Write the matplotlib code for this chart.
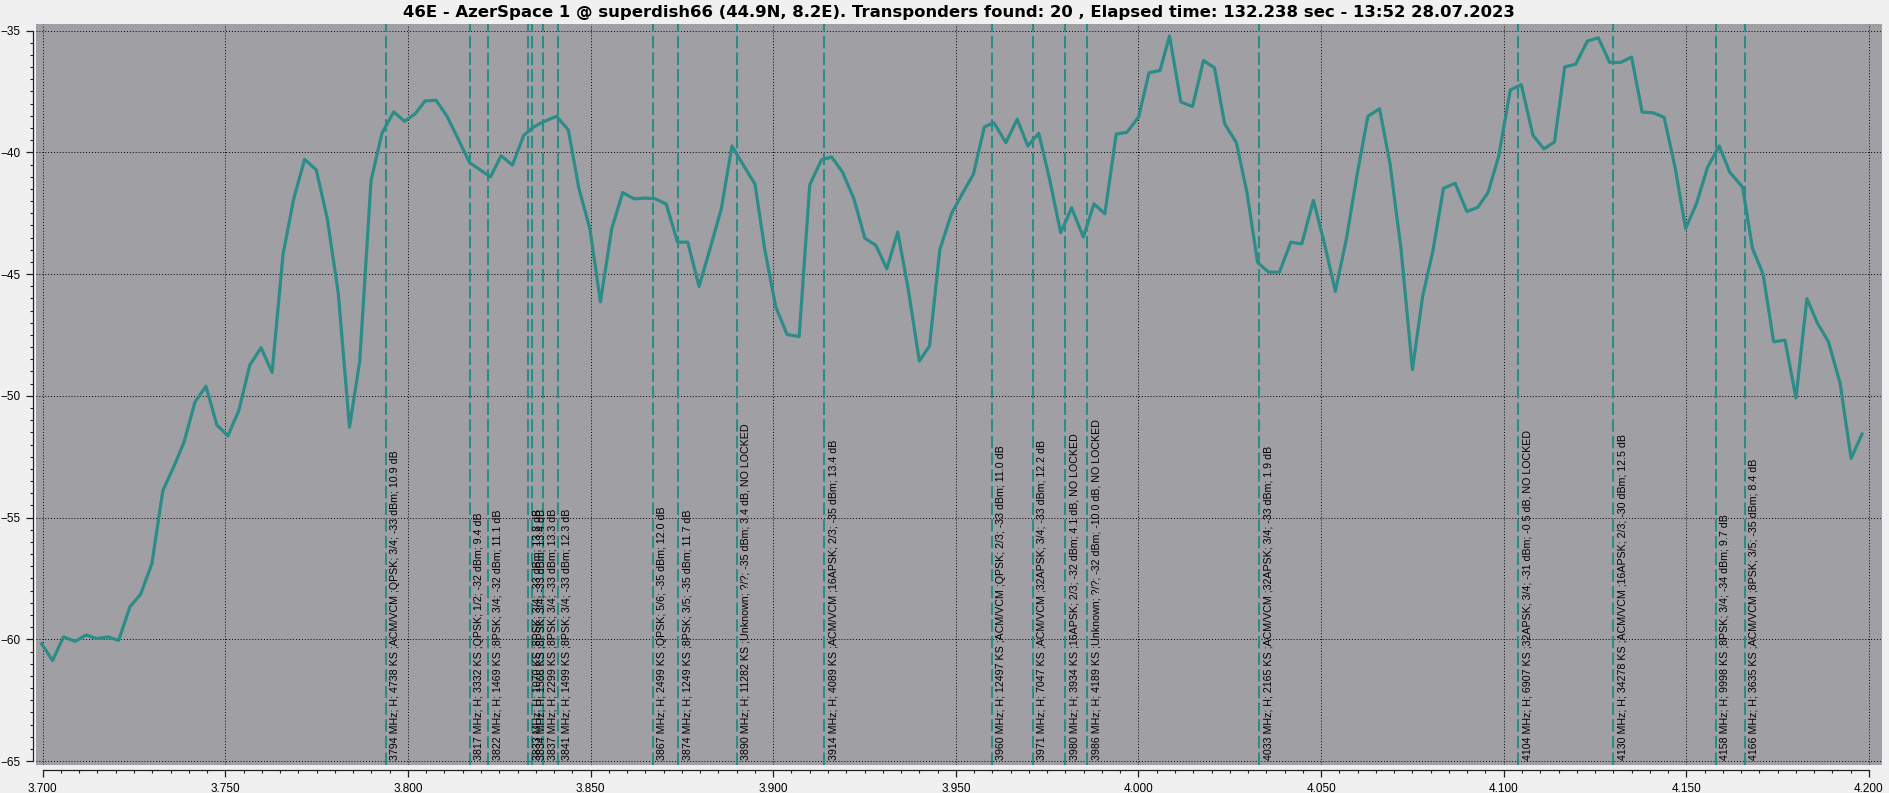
import matplotlib.pyplot as plt
from matplotlib.ticker import MultipleLocator, FormatStrFormatter

# spectrum scan, GHz / dBm
freq = [3.6997, 3.7027, 3.7057, 3.7089, 3.7119, 3.7148, 3.7178, 3.7208, 3.7239, 3.7268,
        3.7299, 3.7329, 3.7358, 3.7387, 3.7417, 3.7447, 3.7477, 3.7507, 3.7537, 3.7567,
        3.7598, 3.7628, 3.7658, 3.7687, 3.7717, 3.7749, 3.7779, 3.7809, 3.7840, 3.7868,
        3.7899, 3.7929, 3.7961, 3.7991, 3.8020, 3.8047, 3.8077, 3.8107, 3.8139, 3.8169,
        3.8196, 3.8226, 3.8255, 3.8286, 3.8317, 3.8344, 3.8370, 3.8407, 3.8439, 3.8468,
        3.8498, 3.8527, 3.8558, 3.8588, 3.8619, 3.8649, 3.8677, 3.8707, 3.8738, 3.8766,
        3.8797, 3.8828, 3.8858, 3.8887, 3.8918, 3.8950, 3.8977, 3.9007, 3.9038, 3.9071,
        3.9100, 3.9132, 3.9160, 3.9190, 3.9221, 3.9251, 3.9281, 3.9311, 3.9341, 3.9370,
        3.9400, 3.9428, 3.9456, 3.9488, 3.9518, 3.9548, 3.9578, 3.9604, 3.9637, 3.9668,
        3.9697, 3.9727, 3.9757, 3.9787, 3.9817, 3.9849, 3.9878, 3.9908, 3.9939, 3.9968,
        4.0000, 4.0029, 4.0059, 4.0085, 4.0116, 4.0148, 4.0178, 4.0208, 4.0236, 4.0268,
        4.0297, 4.0326, 4.0356, 4.0386, 4.0417, 4.0447, 4.0479, 4.0509, 4.0539, 4.0569,
        4.0598, 4.0628, 4.0660, 4.0689, 4.0719, 4.0750, 4.0778, 4.0806, 4.0835, 4.0867,
        4.0899, 4.0929, 4.0957, 4.0986, 4.1018, 4.1048, 4.1080, 4.1110, 4.1139, 4.1167,
        4.1197, 4.1229, 4.1259, 4.1290, 4.1320, 4.1350, 4.1379, 4.1410, 4.1439, 4.1469,
        4.1498, 4.1528, 4.1558, 4.1590, 4.1619, 4.1654, 4.1681, 4.1710, 4.1739, 4.1770,
        4.1800, 4.1830, 4.1859, 4.1889, 4.1921, 4.1951, 4.1981]
level = [-60.18, -60.87, -59.90, -60.08, -59.82, -59.97, -59.90, -60.04, -58.66, -58.15,
         -56.89, -53.89, -52.94, -51.90, -50.25, -49.61, -51.20, -51.64, -50.60, -48.74,
         -48.02, -49.04, -44.19, -41.93, -40.29, -40.72, -42.71, -45.75, -51.29, -48.57,
         -41.15, -39.21, -38.34, -38.73, -38.41, -37.89, -37.86, -38.52, -39.50, -40.43,
         -40.70, -41.01, -40.14, -40.52, -39.30, -38.96, -38.75, -38.52, -39.08, -41.48,
         -43.13, -46.14, -43.13, -41.65, -41.91, -41.88, -41.91, -42.12, -43.69, -43.69,
         -45.51, -43.91, -42.31, -39.74, -40.52, -41.30, -44.00, -46.35, -47.48, -47.57,
         -41.34, -40.31, -40.19, -40.82, -41.91, -43.53, -43.82, -44.78, -43.27, -45.65,
         -48.57, -47.95, -44.00, -42.52, -41.69, -40.90, -38.96, -38.78, -39.60, -38.64,
         -39.74, -39.22, -41.13, -43.30, -42.28, -43.48, -42.12, -42.52, -39.25, -39.18,
         -38.56, -36.73, -36.64, -35.22, -37.93, -38.12, -36.23, -36.53, -38.83, -39.60,
         -41.65, -44.52, -44.92, -44.92, -43.69, -43.76, -41.97, -43.74, -45.71, -43.57,
         -40.96, -38.52, -38.21, -40.50, -44.00, -48.92, -45.91, -44.05, -41.48, -41.27,
         -42.43, -42.26, -41.65, -40.17, -37.44, -37.22, -39.30, -39.86, -39.57, -36.49,
         -36.38, -35.43, -35.30, -36.31, -36.31, -36.09, -38.35, -38.38, -38.56, -40.61,
         -43.13, -42.09, -40.61, -39.74, -40.82, -41.43, -43.95, -45.00, -47.78, -47.71,
         -50.09, -46.01, -47.02, -47.78, -49.49, -52.57, -51.57]

# transponders found (MHz) and their info strings
tp_mhz = [3794, 3817, 3822, 3833, 3834, 3837, 3841, 3867, 3874, 3890,
          3914, 3960, 3971, 3980, 3986, 4033, 4104, 4130, 4158, 4166]
tp_info = [
    "H; 4738 KS ;ACM/VCM ;QPSK; 3/4; -33 dBm; 10.9 dB",
    "H; 3332 KS ;QPSK; 1/2; -32 dBm; 9.4 dB",
    "H; 1469 KS ;8PSK; 3/4; -32 dBm; 11.1 dB",
    "H; 1070 KS ;8PSK; 3/4; -33 dBm; 13.8 dB",
    "H; 1566 KS ;8PSK; 3/4; -33 dBm; 13.4 dB",
    "H; 2299 KS ;8PSK; 3/4; -33 dBm; 13.3 dB",
    "H; 1499 KS ;8PSK; 3/4; -33 dBm; 12.3 dB",
    "H; 2499 KS ;QPSK; 5/6; -35 dBm; 12.0 dB",
    "H; 1249 KS ;8PSK; 3/5; -35 dBm; 11.7 dB",
    "H; 11282 KS ;Unknown; ?/?; -35 dBm; 3.4 dB, NO LOCKED",
    "H; 4089 KS ;ACM/VCM ;16APSK; 2/3; -35 dBm; 13.4 dB",
    "H; 12497 KS ;ACM/VCM ;QPSK; 2/3; -33 dBm; 11.0 dB",
    "H; 7047 KS ;ACM/VCM ;32APSK; 3/4; -33 dBm; 12.2 dB",
    "H; 3934 KS ;16APSK; 2/3; -32 dBm; 4.1 dB, NO LOCKED",
    "H; 4189 KS ;Unknown; ?/?; -32 dBm; -10.0 dB, NO LOCKED",
    "H; 2165 KS ;ACM/VCM ;32APSK; 3/4; -33 dBm; 1.9 dB",
    "H; 6907 KS ;32APSK; 3/4; -31 dBm; -0.5 dB, NO LOCKED",
    "H; 34278 KS ;ACM/VCM ;16APSK; 2/3; -30 dBm; 12.5 dB",
    "H; 9998 KS ;8PSK; 3/4; -34 dBm; 9.7 dB",
    "H; 3635 KS ;ACM/VCM ;8PSK; 3/5; -35 dBm; 8.4 dB",
]

title = ("46E - AzerSpace 1 @ superdish66 (44.9N, 8.2E). Transponders found: 20 , "
         "Elapsed time: 132.238 sec - 13:52 28.07.2023")

teal = '#2c8c88'
W, H = 1890, 793
fig = plt.figure(figsize=(W / 100, H / 100), dpi=100, facecolor='#f0f0f0')
ax = fig.add_axes([36 / W, (H - 765) / H, 1846 / W, 741 / H])
ax.set_facecolor('#a0a0a4')
ax.set_xlim(3.69817, 4.20356)
ax.set_ylim(-65.16, -34.73)

ax.grid(True, color='black', linestyle=(0, (1, 2)), linewidth=0.7)
ax.xaxis.set_major_locator(MultipleLocator(0.05))
ax.xaxis.set_minor_locator(MultipleLocator(0.005))
ax.xaxis.set_major_formatter(FormatStrFormatter('%.3f'))
ax.yaxis.set_major_locator(MultipleLocator(5))
ax.yaxis.set_minor_locator(MultipleLocator(0.5))

for s in ('top', 'right'):
    ax.spines[s].set_visible(False)
ax.spines['left'].set_position(('outward', 2.2))
ax.spines['bottom'].set_position(('outward', 3.6))
ax.spines['left'].set_bounds(-65, -35)
ax.spines['bottom'].set_bounds(3.7, 4.2)
for s in ('left', 'bottom'):
    ax.spines[s].set_color('#202020')
    ax.spines[s].set_linewidth(0.9)

ax.tick_params(which='major', length=5, width=0.9, color='#202020', labelsize=8.5, pad=4)
ax.tick_params(which='minor', length=2.5, width=0.8, color='#202020')
for lab in ax.get_xticklabels() + ax.get_yticklabels():
    lab.set_family('Liberation Sans')

# transponder markers
for mhz, info in zip(tp_mhz, tp_info):
    f = mhz / 1000
    ax.axvline(f, color=teal, linewidth=1.5, dashes=(6, 2), zorder=2)
    ax.annotate(f"{mhz} MHz; {info}", xy=(f, 0), xycoords=ax.get_xaxis_transform(),
                xytext=(4, 5), textcoords='offset pixels', rotation=90,
                ha='left', va='bottom', fontsize=7.7, family='Liberation Sans',
                color='black', zorder=3)

ax.plot(freq, level, color=teal, linewidth=2.3, zorder=4)

fig.text((36 + 923) / W, 1 - 13 / H, title, ha='center', va='center',
         fontsize=11.85, fontweight='bold', family='DejaVu Sans')

fig.savefig('out.png', dpi=100, facecolor=fig.get_facecolor())
